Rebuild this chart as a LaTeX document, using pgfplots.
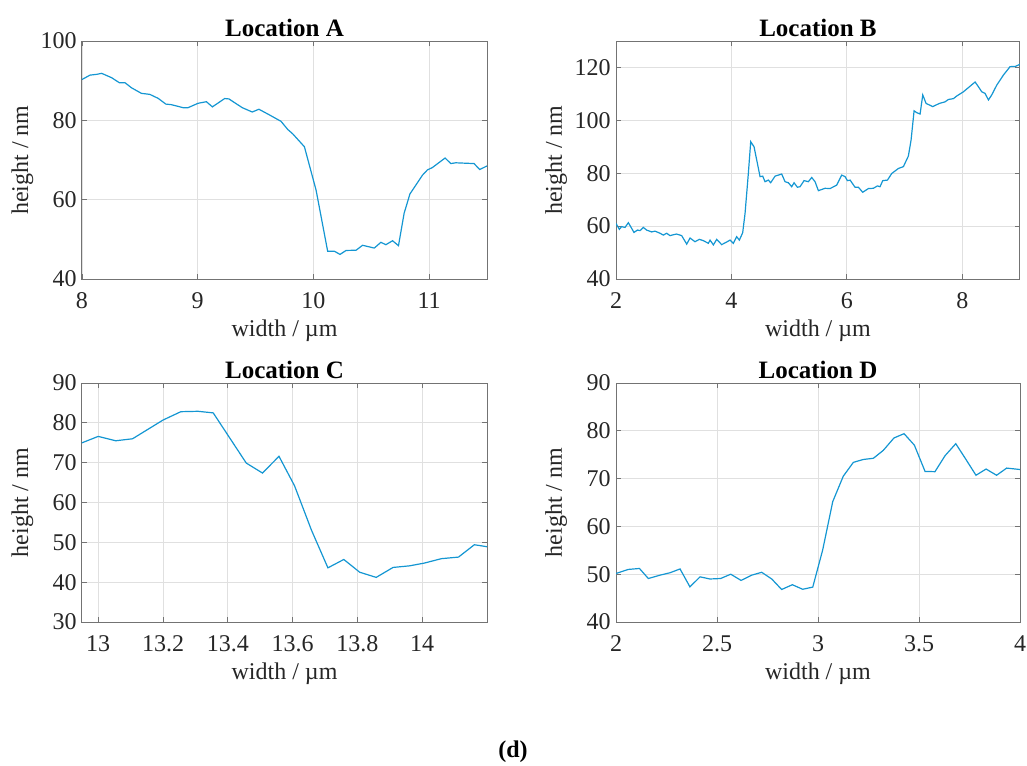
\documentclass[border=0pt]{standalone}
\usepackage{fontspec}
\setmainfont{Liberation Serif}
\usepackage{pgfplots}
\pgfplotsset{compat=1.18}
\definecolor{mlblue}{RGB}{20,150,210}
\definecolor{txt}{RGB}{38,38,38}
\pgfplotsset{
  every axis title shift=0pt,
  mystyle/.style={
    scale only axis,
    anchor=south west,
    font=\fontsize{12}{14}\selectfont,
    /pgf/number format/assume math mode=true,
    axis line style={draw=black!55, line width=0.5pt},
    tick style={draw=black!55, line width=0.4pt},
    tick align=inside,
    major tick length=2.5pt,
    xtick pos=both, ytick pos=both,
    grid=major,
    major grid style={draw=black!12, line width=0.4pt},
    tick label style={text=txt},
    xticklabel style={anchor=base, yshift=-14.5pt, inner sep=0pt},
    yticklabel style={anchor=east, xshift=-2.5pt, inner sep=0pt},
    xlabel style={at={(axis description cs:0.5,0)}, anchor=base, yshift=-28.5pt, inner sep=0pt, text=txt},
    ylabel style={anchor=base, inner sep=0pt, text=txt},
    title style={at={(axis description cs:0.5,1)}, anchor=base, yshift=2.5pt, inner sep=0pt, font=\fontsize{12.5}{14}\selectfont\bfseries},
    xlabel={width / µm},
    ylabel={height / nm},
  },
  prof/.style={mlblue, line width=0.6pt, mark=none},
}
\begin{document}
\begin{tikzpicture}
\useasboundingbox (0,0) rectangle (513.5pt,-382.5pt);
% Location A
\begin{axis}[mystyle, at={(41pt,-139.5pt)}, width=202.5pt, height=119pt,
  xmin=8, xmax=11.5, ymin=40, ymax=100,
  xtick={8,9,10,11}, ytick={40,60,80,100},
  ylabel style={at={(axis description cs:-0.1333,0.5)}},
  title={Location A}]
\addplot[prof] coordinates {
(8.000,90.3) (8.069,91.4) (8.127,91.6) (8.170,91.85) (8.256,90.75) (8.322,89.5) (8.371,89.5)
(8.428,88.2) (8.514,86.8) (8.586,86.55) (8.658,85.55) (8.724,84.1) (8.773,83.95) (8.873,83.2)
(8.917,83.2) (9.003,84.3) (9.075,84.7) (9.127,83.4) (9.233,85.5) (9.270,85.4) (9.319,84.45)
(9.385,83.2) (9.471,82.1) (9.529,82.8) (9.621,81.35) (9.720,79.75) (9.778,77.7) (9.821,76.6)
(9.922,73.35) (10.023,62.4) (10.123,47.0) (10.181,47.0) (10.230,46.2) (10.282,47.2) (10.368,47.25)
(10.425,48.5) (10.526,47.8) (10.583,49.25) (10.626,48.65) (10.684,49.65) (10.735,48.4)
(10.784,56.6) (10.834,61.45) (10.943,66.2) (10.985,67.5) (11.028,68.1) (11.138,70.5)
(11.187,69.1) (11.230,69.3) (11.388,69.1) (11.437,67.6) (11.500,68.5)
};
\end{axis}
% Location B
\begin{axis}[mystyle, at={(308pt,-139.5pt)}, width=202pt, height=119pt,
  xmin=2, xmax=9, ymin=40, ymax=130,
  xtick={2,4,6,8}, ytick={40,60,80,100,120},
  ylabel style={at={(axis description cs:-0.1337,0.5)}},
  title={Location B}]
\addplot[prof] coordinates {
(2.000,61.0) (2.058,58.8) (2.098,59.8) (2.156,59.5) (2.214,61.3) (2.254,59.8) (2.312,57.6)
(2.370,58.5) (2.416,58.3) (2.474,59.5) (2.531,58.5) (2.618,57.8) (2.676,58.1) (2.763,57.3)
(2.820,56.6) (2.878,57.3) (2.936,56.4) (3.005,56.8) (3.050,57.0) (3.138,56.4) (3.225,53.2)
(3.283,55.5) (3.369,54.1) (3.444,55.0) (3.514,54.5) (3.600,53.5) (3.630,54.7) (3.687,52.9)
(3.745,55.0) (3.831,53.0) (3.918,54.0) (3.976,54.7) (4.033,53.5) (4.091,56.0) (4.137,54.7)
(4.195,57.5) (4.236,64.8) (4.293,79.9) (4.334,91.9) (4.392,90.0) (4.450,83.7) (4.496,78.7)
(4.542,78.9) (4.582,76.8) (4.640,77.4) (4.680,76.4) (4.756,78.9) (4.871,79.7) (4.929,76.8)
(4.987,76.4) (5.044,74.9) (5.085,76.4) (5.143,74.7) (5.189,74.9) (5.258,77.2) (5.333,76.8)
(5.391,78.4) (5.449,76.8) (5.507,73.4) (5.622,74.3) (5.709,74.2) (5.824,75.5) (5.911,79.3)
(5.969,78.7) (6.009,77.2) (6.056,77.4) (6.142,74.7) (6.200,74.7) (6.275,72.8) (6.373,74.2)
(6.460,74.3) (6.529,75.2) (6.575,74.9) (6.622,77.2) (6.703,77.4) (6.778,79.9) (6.893,81.8)
(6.980,82.5) (7.066,86.5) (7.113,92.6) (7.165,103.6) (7.211,102.9) (7.269,102.4) (7.315,109.6)
(7.373,106.4) (7.488,105.2) (7.604,106.4) (7.702,107.0) (7.760,107.9) (7.846,108.2)
(7.904,109.2) (8.020,110.8) (8.124,112.7) (8.222,114.5) (8.280,112.7) (8.337,110.8)
(8.395,110.2) (8.453,107.7) (8.510,109.6) (8.597,113.3) (8.712,117.1) (8.828,120.3)
(8.920,120.4) (9.000,121.2)
};
\end{axis}
% Location C
\begin{axis}[mystyle, at={(41pt,-311pt)}, width=202.5pt, height=119.5pt,
  xmin=12.95, xmax=14.2, ymin=30, ymax=90,
  xtick={13,13.2,13.4,13.6,13.8,14}, xticklabels={13,13.2,13.4,13.6,13.8,14},
  ytick={30,40,50,60,70,80,90},
  ylabel style={at={(axis description cs:-0.1333,0.5)}},
  title={Location C}]
\addplot[prof] coordinates {
(12.949,74.95) (13.000,76.6) (13.054,75.5) (13.106,76.0) (13.200,80.7) (13.255,82.8)
(13.308,82.9) (13.355,82.5) (13.457,69.9) (13.507,67.4) (13.558,71.6) (13.606,64.2)
(13.658,53.1) (13.709,43.6) (13.758,45.7) (13.807,42.5) (13.858,41.2) (13.910,43.7)
(13.961,44.1) (14.007,44.8) (14.059,45.9) (14.112,46.3) (14.161,49.4) (14.200,48.9)
};
\end{axis}
% Location D
\begin{axis}[mystyle, at={(308pt,-311pt)}, width=202pt, height=119.5pt,
  xmin=2, xmax=4, ymin=40, ymax=90,
  xtick={2,2.5,3,3.5,4}, xticklabels={2,2.5,3,3.5,4},
  ytick={40,50,60,70,80,90},
  ylabel style={at={(axis description cs:-0.1337,0.5)}},
  title={Location D}]
\addplot[prof] coordinates {
(2.000,50.15) (2.061,51.0) (2.116,51.2) (2.160,49.1) (2.218,49.8) (2.267,50.3) (2.317,51.1)
(2.366,47.35) (2.416,49.45) (2.465,49.0) (2.518,49.1) (2.568,50.0) (2.619,48.7) (2.672,49.8)
(2.721,50.4) (2.771,49.0) (2.820,46.8) (2.873,47.8) (2.924,46.85) (2.974,47.3) (3.023,55.05)
(3.073,65.2) (3.125,70.5) (3.175,73.4) (3.224,74.0) (3.274,74.25) (3.323,75.9) (3.376,78.5)
(3.426,79.4) (3.477,77.0) (3.530,71.5) (3.579,71.45) (3.629,74.8) (3.682,77.3) (3.731,74.1)
(3.782,70.7) (3.832,72.0) (3.884,70.7) (3.934,72.2) (4.000,71.9)
};
\end{axis}
\node[font=\fontsize{12}{14}\selectfont\bfseries, text=black] at (256.5pt,-376pt) {(d)};
\end{tikzpicture}
\end{document}
